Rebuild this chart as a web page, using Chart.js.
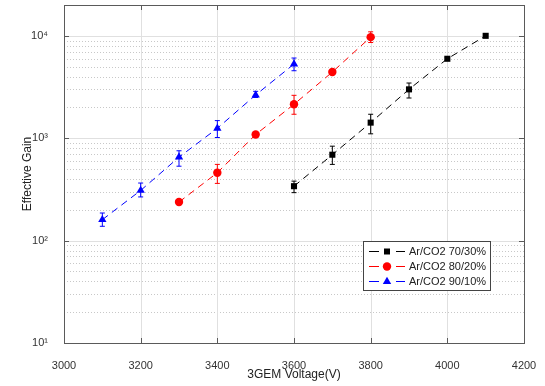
<!DOCTYPE html>
<html><head><meta charset="utf-8">
<script src="https://cdn.jsdelivr.net/npm/chart.js@4/dist/chart.umd.min.js"></script>
<style>html,body{margin:0;padding:0;background:#fff;}#wrap{width:545px;height:386px;position:relative;}</style>
</head><body><div id="wrap"><canvas id="c" width="545" height="386"></canvas></div>
<script>
// ---- data ----
const seriesLabels = ['Ar/CO2 70/30%', 'Ar/CO2 80/20%', 'Ar/CO2 90/10%'];
const voltage70 = [3600, 3700, 3800, 3900, 4000, 4100];
const gain70    = [340, 690, 1420, 3000, 5970, 10000];
const low70     = [294, 555, 1104, 2470, 5800, 10000];
const high70    = [381, 836, 1714, 3460, 6150, 10000];
const voltage80 = [3300, 3400, 3500, 3600, 3700, 3800];
const gain80    = [238, 460, 1087, 2144, 4430, 9710];
const low80     = [238, 362, 1087, 1714, 4300, 8600];
const high80    = [238, 555, 1087, 2624, 4560, 10940];
const voltage90 = [3100, 3200, 3300, 3400, 3500, 3600];
const gain90    = [160, 309, 653, 1250, 2644, 5300];
const low90     = [138, 267, 533, 1016, 2500, 4560];
const high90    = [186, 365, 754, 1486, 2870, 6070];
const xTicks = [3000, 3200, 3400, 3600, 3800, 4000, 4200];
const yTicks = [10, 100, 1000, 10000];

const FONT = '"Liberation Sans", Arial, sans-serif';
const colors = ['#000000', '#ff0000', '#0000ff'];
const styles = ['rect', 'circle', 'triangle'];
const radii = [4.3, 4.2, 4.8];
const sup = {'1':'\u00b9','2':'\u00b2','3':'\u00b3','4':'\u2074'};

function pts(xs, ys, lo, hi) { return xs.map((x, i) => ({x: x, y: ys[i], lo: lo[i], hi: hi[i]})); }
const allData = [pts(voltage70, gain70, low70, high70), pts(voltage80, gain80, low80, high80), pts(voltage90, gain90, low90, high90)];

const gridPlugin = {
  id: 'grid',
  beforeDatasetsDraw(chart) {
    const {ctx, chartArea: a, scales: {x, y}} = chart;
    ctx.save();
    ctx.lineWidth = 1;
    ctx.strokeStyle = '#c8c8c8';
    ctx.setLineDash([1, 2]);
    for (let d = 10; d < 20000; d *= 10) {
      for (let k = 2; k <= 9; k++) {
        const v = k * d; if (v > 20000) break;
        const py = Math.round(y.getPixelForValue(v)) + 0.5;
        ctx.beginPath(); ctx.moveTo(a.left, py); ctx.lineTo(a.right, py); ctx.stroke();
      }
    }
    ctx.setLineDash([]);
    ctx.strokeStyle = '#e0e0e0';
    yTicks.forEach(v => {
      const py = Math.round(y.getPixelForValue(v)) + 0.5;
      ctx.beginPath(); ctx.moveTo(a.left, py); ctx.lineTo(a.right, py); ctx.stroke();
    });
    xTicks.forEach(v => {
      const px = Math.round(x.getPixelForValue(v)) + 0.5;
      ctx.beginPath(); ctx.moveTo(px, a.top); ctx.lineTo(px, a.bottom); ctx.stroke();
    });
    chart.data.datasets.forEach((ds, di) => {
      ctx.strokeStyle = colors[di];
      ds.data.forEach(p => {
        if (p.hi === p.lo) return;
        const px = x.getPixelForValue(p.x);
        const t = y.getPixelForValue(p.hi), b = y.getPixelForValue(p.lo);
        ctx.beginPath();
        ctx.moveTo(px, t); ctx.lineTo(px, b);
        ctx.moveTo(px - 2.5, t); ctx.lineTo(px + 2.5, t);
        ctx.moveTo(px - 2.5, b); ctx.lineTo(px + 2.5, b);
        ctx.stroke();
      });
    });
    ctx.restore();
  },
  afterDraw(chart) {
    const {ctx, chartArea: a, scales: {x, y}} = chart;
    ctx.save();
    ctx.strokeStyle = '#5a5a5a';
    ctx.lineWidth = 1;
    ctx.strokeRect(Math.round(a.left) + 0.5, Math.round(a.top) + 0.5, Math.round(a.right - a.left), Math.round(a.bottom - a.top));
    ctx.beginPath();
    xTicks.forEach(v => {
      const px = Math.round(x.getPixelForValue(v)) + 0.5;
      ctx.moveTo(px, a.bottom); ctx.lineTo(px, a.bottom - 5);
      ctx.moveTo(px, a.top); ctx.lineTo(px, a.top + 5);
    });
    yTicks.forEach(v => {
      const py = Math.round(y.getPixelForValue(v)) + 0.5;
      ctx.moveTo(a.left, py); ctx.lineTo(a.left + 5, py);
      ctx.moveTo(a.right, py); ctx.lineTo(a.right - 5, py);
    });
    ctx.stroke();
    // legend
    const lx = 363.5, ly = 241.5, lw = 127, lh = 49;
    ctx.fillStyle = '#fff';
    ctx.fillRect(lx, ly, lw, lh);
    ctx.strokeStyle = '#444';
    ctx.strokeRect(lx, ly, lw, lh);
    ctx.font = '11px ' + FONT;
    ctx.textBaseline = 'middle';
    seriesLabels.forEach((lab, i) => {
      const cy = Math.round(251 + i * 15.2) + 0.5;
      ctx.strokeStyle = colors[i]; ctx.lineWidth = 1;
      ctx.beginPath(); ctx.moveTo(369, cy); ctx.lineTo(379, cy); ctx.moveTo(396, cy); ctx.lineTo(405, cy); ctx.stroke();
      ctx.fillStyle = colors[i];
      ctx.beginPath();
      if (i === 0) { ctx.rect(384, cy - 3, 6, 6); }
      else if (i === 1) { ctx.arc(387, cy, 4.2, 0, Math.PI * 2); }
      else { ctx.moveTo(387, cy - 4.8); ctx.lineTo(391.2, cy + 2.4); ctx.lineTo(382.8, cy + 2.4); ctx.closePath(); }
      ctx.fill();
      ctx.fillStyle = '#222';
      ctx.fillText(lab, 409, cy);
    });
    ctx.restore();
  }
};

new Chart(document.getElementById('c'), {
  type: 'scatter',
  data: {
    datasets: allData.map((d, i) => ({
      label: seriesLabels[i],
      data: d,
      showLine: true,
      borderColor: colors[i],
      backgroundColor: colors[i],
      borderWidth: 1,
      borderDash: [7, 5],
      pointStyle: styles[i],
      pointRadius: radii[i],
      pointBorderWidth: 0,
      pointHoverRadius: radii[i]
    }))
  },
  options: {
    responsive: false,
    animation: false,
    events: [],
    layout: {padding: {top: 5, right: 21, left: 0, bottom: 0}},
    plugins: {legend: {display: false}, tooltip: {enabled: false}},
    scales: {
      x: {
        type: 'linear', min: 3000, max: 4200,
        afterBuildTicks: s => { s.ticks = xTicks.map(v => ({value: v})); },
        afterFit: s => { s.height = 43; s.paddingLeft = 0; s.paddingRight = 0; },
        grid: {display: false},
        border: {display: false},
        ticks: {color: '#333', font: {family: FONT, size: 11}, padding: 8, maxRotation: 0, callback: v => String(v)},
        title: {display: true, text: '3GEM Voltage(V)', color: '#222', font: {family: FONT, size: 12}, padding: {top: 0, bottom: 4}}
      },
      y: {
        type: 'logarithmic', min: 10, max: 20000,
        afterBuildTicks: s => { s.ticks = yTicks.map(v => ({value: v})); },
        afterFit: s => { s.width = 64; s.paddingTop = 0; s.paddingBottom = 0; },
        grid: {display: false},
        border: {display: false},
        ticks: {color: '#333', font: {family: FONT, size: 11}, padding: 8,
          callback: v => '10' + sup[String(Math.round(Math.log10(v)))]},
        title: {display: true, text: 'Effective Gain', color: '#222', font: {family: FONT, size: 12}, padding: {top: 20, bottom: 0}}
      }
    }
  },
  plugins: [gridPlugin]
});
</script></body></html>
